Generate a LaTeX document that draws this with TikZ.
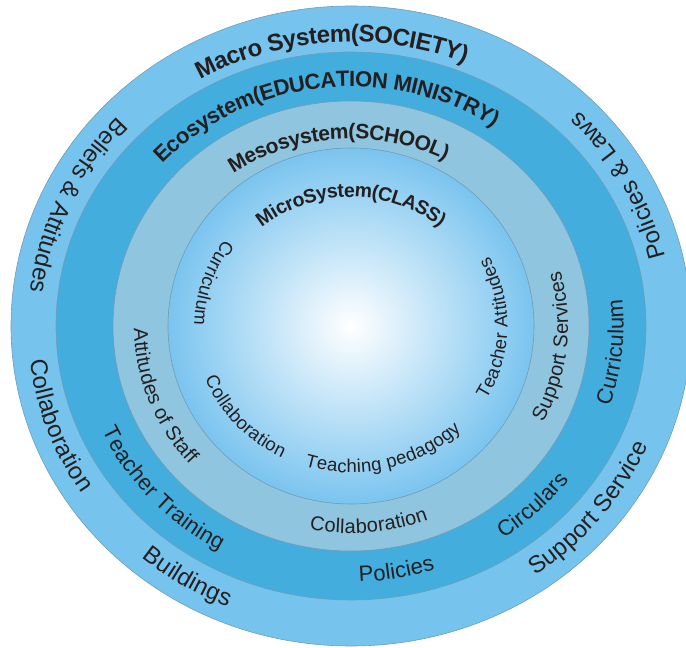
\documentclass[tikz,border=0pt]{standalone}
\usepackage{fontspec}
\setmainfont{Liberation Sans}
\usetikzlibrary{decorations.text}

\definecolor{macroblue}{HTML}{76C4EE}
\definecolor{exoblue}{HTML}{43ADDE}
\definecolor{mesoblue}{HTML}{8FC5DE}
\definecolor{microblue}{HTML}{7AC4EF}
\definecolor{rimgrey}{HTML}{6F9DB8}
\definecolor{ink}{HTML}{231F20}

\begin{document}
\begin{tikzpicture}[x=1pt, y=1pt,
    ring/.style   = {draw=rimgrey, line width=0.6pt},
    along/.style n args = {4}{insert path={(#1:#3 and #4)
                    arc[start angle=#1, end angle=#2, x radius=#3, y radius=#4]}},
    curved/.style 2 args = {decorate, decoration={text along path, text align=center,
                    text color=ink, raise=#1, text={#2}}},
    macrolbl/.style = {curved={-7pt}{|\fontsize{24}{24}\selectfont|#1}},
    exolbl/.style   = {curved={-6.5pt}{|\fontsize{22}{22}\selectfont|#1}},
    mesolbl/.style  = {curved={-6pt}{|\fontsize{20}{20}\selectfont|#1}},
    microlbl/.style = {curved={-5.5pt}{|\fontsize{18.5}{18.5}\selectfont|#1}}
                    ]
\useasboundingbox (-351,-322) rectangle (335,326);
% the four systems
\filldraw[ring, fill=macroblue] (0,0) ellipse[x radius=340, y radius=320];
\filldraw[ring, fill=exoblue]   (0,0) ellipse[x radius=295, y radius=274];
\filldraw[ring, fill=mesoblue]  (0,0) ellipse[x radius=238, y radius=225];
\shade[inner color=white, outer color=microblue] (0,0) ellipse[x radius=183, y radius=178];
\draw[ring] (0,0) ellipse[x radius=183, y radius=178];
%
% titles
\path[curved={-13pt}{|\bfseries\fontsize{24}{24}\selectfont|Macro System(SOCIETY)},
      along={174}{14}{316}{297}];
\path[curved={-10pt}{|\bfseries\fontsize{22}{22}\selectfont|Ecosystem(EDUCATION MINISTRY)},
      along={187}{7}{266}{249.5}];
\path[curved={-8pt}{|\bfseries\fontsize{21}{21}\selectfont|Mesosystem(SCHOOL)},
      along={174}{14}{211}{195}];
\path[curved={-7pt}{|\bfseries\fontsize{19.5}{19.5}\selectfont|MicroSystem(CLASS)},
      along={170}{10}{145}{136}];
%
% macro system
\path[macrolbl={Beliefs {\&} Attitudes}, along={110}{201}{316}{297}];
\path[macrolbl={Collaboration},          along={160}{239}{316}{297}];
\path[macrolbl={Buildings},              along={200}{276}{316}{297}];
\path[macrolbl={Support Service},        along={280}{363}{316}{297}];
\path[macrolbl={Policies {\&} Laws},     along={-12}{69}{316}{297}];
% ecosystem
\path[exolbl={Teacher Training}, along={180}{264}{266}{249.5}];
\path[exolbl={Policies},         along={250}{310}{266}{249.5}];
\path[exolbl={Circulars},        along={284}{344}{266}{249.5}];
\path[exolbl={Curriculum},       along={324}{384}{266}{249.5}];
% mesosystem
\path[mesolbl={Attitudes of Staff}, along={155}{247}{211}{201.5}];
\path[mesolbl={Collaboration},      along={235}{315}{211}{201.5}];
\path[mesolbl={Support Services},   along={305}{403}{211}{201.5}];
% microsystem
\path[microlbl={Curriculum},        along={130}{194}{151}{141}];
\path[microlbl={Collaboration},     along={185}{259}{151}{141}];
\path[microlbl={Teaching pedagogy}, along={240}{328}{151}{141}];
\path[microlbl={Teacher Attitudes}, along={315}{403}{151}{141}];
\end{tikzpicture}
\end{document}
